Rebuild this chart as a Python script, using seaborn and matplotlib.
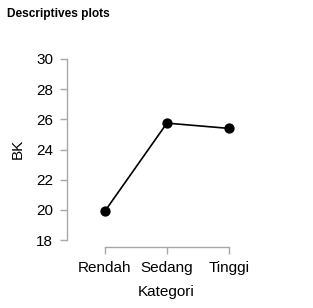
import seaborn as sns
import matplotlib.pyplot as plt
import pandas as pd

kategori = ["Rendah", "Sedang", "Tinggi"]
bk_mean = [19.92, 25.75, 25.40]
y_ticks = [18, 20, 22, 24, 26, 28, 30]

df = pd.DataFrame({"Kategori": kategori, "BK": bk_mean})

sns.set_style("white")
plt.rcParams["font.family"] = ["Liberation Sans", "DejaVu Sans"]
plt.rcParams["text.color"] = "black"
plt.rcParams["axes.labelcolor"] = "black"

fig = plt.figure(figsize=(3.13, 3.08), dpi=100)
ax = fig.add_axes([0.214, 0.198, 0.636, 0.635])

sns.pointplot(data=df, x="Kategori", y="BK", errorbar=None, color="black",
              markersize=6.5, linewidth=1.2, ax=ax)

ax.set_xlim(-0.613, 2.6)
ax.set_ylim(17.54, 30.5)
ax.set_yticks(y_ticks)

for s in ["top", "right"]:
    ax.spines[s].set_visible(False)
ax.spines["left"].set_bounds(18, 30)
ax.spines["bottom"].set_bounds(0, 2)
for s in ["left", "bottom"]:
    ax.spines[s].set_color("#a8a8a8")
    ax.spines[s].set_linewidth(1.0)

ax.tick_params(axis="both", direction="out", length=5, width=1.0,
               color="#a8a8a8", labelsize=11, labelcolor="black", pad=5,
               left=True, bottom=True)

ax.set_xlabel("Kategori", fontsize=11, labelpad=7)
ax.set_ylabel("BK", fontsize=11, labelpad=8)

fig.text(0.022, 0.955, "Descriptives plots", fontsize=8.6, fontweight="bold",
         va="center", ha="left")

fig.savefig("out.png", dpi=100)
